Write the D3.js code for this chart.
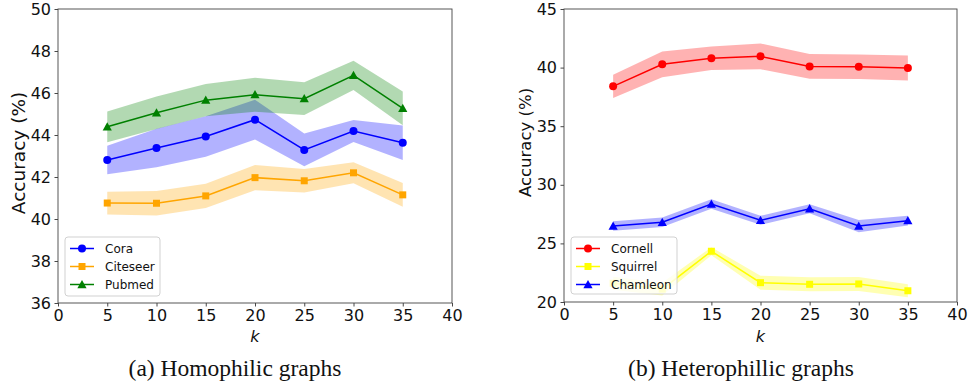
<!DOCTYPE html>
<html><head><meta charset="utf-8">
<script src="https://cdn.jsdelivr.net/npm/d3@7"></script>
<style>
body{margin:0;background:#fff;}
svg{display:block;}
</style></head>
<body>
<svg id="c" width="969" height="387"></svg>
<script>
const kValues = [5, 10, 15, 20, 25, 30, 35];
// Homophilic
const cora      = [42.81, 43.38, 43.93, 44.73, 43.29, 44.19, 43.63];
const coraStd   = [0.68, 0.92, 0.96, 0.95, 0.78, 0.52, 0.82];
const citeseer    = [40.76, 40.75, 41.10, 41.97, 41.82, 42.20, 41.15];
const citeseerStd = [0.54, 0.58, 0.58, 0.60, 0.56, 0.50, 0.57];
const pubmed    = [44.39, 45.06, 45.66, 45.92, 45.73, 46.84, 45.27];
const pubmedStd = [0.73, 0.77, 0.77, 0.81, 0.78, 0.70, 0.80];
// Heterophilic
const cornell    = [38.40, 40.28, 40.79, 40.96, 40.10, 40.07, 39.96];
const cornellStd = [1.00, 1.10, 1.00, 1.10, 1.05, 1.05, 1.07];
const squirrel    = [21.60, 21.10, 24.33, 21.65, 21.51, 21.54, 20.96];
const squirrelStd = [0.55, 0.55, 0.35, 0.60, 0.60, 0.60, 0.55];
const chamleon    = [26.48, 26.80, 28.36, 26.97, 27.96, 26.48, 26.94];
const chamleonStd = [0.40, 0.40, 0.40, 0.38, 0.38, 0.52, 0.42];

const xTicks = [0, 5, 10, 15, 20, 25, 30, 35, 40];
const yTicksA = [36, 38, 40, 42, 44, 46, 48, 50];
const yTicksB = [20, 25, 30, 35, 40, 45];

const svg = d3.select("#c");
const TICKFONT = "DejaVu Sans, sans-serif";

function marker(g, shape, x, y, color){
  if(shape==="circle"){
    g.append("circle").attr("cx",x).attr("cy",y).attr("r",4).attr("fill",color);
  } else if(shape==="square"){
    g.append("rect").attr("x",x-3.5).attr("y",y-3.5).attr("width",7).attr("height",7).attr("fill",color);
  } else {
    const s=4.6;
    g.append("path").attr("d",`M${x},${y-s}L${x+s},${y+s*0.8}L${x-s},${y+s*0.8}Z`).attr("fill",color);
  }
}

function panel(cfg){
  const x = d3.scaleLinear().domain([0,40]).range([cfg.x0,cfg.x1]);
  const y = d3.scaleLinear().domain(cfg.ydom).range([cfg.y1,cfg.y0]);
  const g = svg.append("g");

  cfg.series.forEach(s=>{
    const area = d3.area().x((d,i)=>x(kValues[i])).y0((d,i)=>y(d-s.std[i])).y1((d,i)=>y(d+s.std[i]));
    g.append("path").datum(s.vals).attr("d",area).attr("fill",s.color).attr("fill-opacity",0.3);
    const line = d3.line().x((d,i)=>x(kValues[i])).y(d=>y(d));
    g.append("path").datum(s.vals).attr("d",line).attr("fill","none").attr("stroke",s.color).attr("stroke-width",1.5);
    s.vals.forEach((v,i)=>marker(g,s.shape,x(kValues[i]),y(v),s.color));
  });

  const ax = svg.append("g").attr("transform",`translate(0,${cfg.y1})`)
    .call(d3.axisBottom(x).tickValues(xTicks).tickSize(3.5).tickPadding(3.5).tickFormat(d3.format("d")));
  const ay = svg.append("g").attr("transform",`translate(${cfg.x0},0)`)
    .call(d3.axisLeft(y).tickValues(cfg.yticks).tickSize(3.5).tickPadding(3.5).tickFormat(d3.format("d")));
  [ax,ay].forEach(a=>{
    a.select(".domain").remove();
    a.selectAll("line").attr("stroke","#333").attr("stroke-width",0.9);
    a.selectAll("text").attr("font-family",TICKFONT).attr("font-size",16).attr("fill","#111");
  });
  svg.append("rect").attr("x",cfg.x0).attr("y",cfg.y0).attr("width",cfg.x1-cfg.x0).attr("height",cfg.y1-cfg.y0)
    .attr("fill","none").attr("stroke","#444").attr("stroke-width",0.9);

  svg.append("text").attr("x",(cfg.x0+cfg.x1)/2).attr("y",342).attr("text-anchor","middle")
    .attr("font-family",TICKFONT).attr("font-size",16).attr("font-style","italic").attr("fill","#111").text("k");
  svg.append("text").attr("transform",`translate(${cfg.ylabX},${cfg.ylabY}) rotate(-90)`)
    .attr("text-anchor","middle").attr("dy","0.35em")
    .attr("font-family",TICKFONT).attr("font-size",cfg.ylabSize).attr("fill","#111").text("Accuracy (%)");

  // legend
  const L = cfg.legend;
  svg.append("rect").attr("x",L.x).attr("y",L.y).attr("width",L.w).attr("height",L.h).attr("rx",3)
    .attr("fill","#fff").attr("fill-opacity",0.8).attr("stroke","#ccc").attr("stroke-width",0.9);
  cfg.series.forEach((s,i)=>{
    const yy = L.y + 11.5 + i*18;
    const lg = svg.append("g");
    lg.append("line").attr("x1",L.x+5).attr("x2",L.x+29).attr("y1",yy).attr("y2",yy).attr("stroke",s.color).attr("stroke-width",1.5);
    marker(lg,s.shape,L.x+17,yy,s.color);
    lg.append("text").attr("x",L.x+40).attr("y",yy).attr("dy","0.35em")
      .attr("font-family",TICKFONT).attr("font-size",12).attr("fill","#111").text(s.name);
  });

  svg.append("text").attr("x",cfg.capX).attr("y",376).attr("text-anchor","middle")
    .attr("font-family","Liberation Serif, Times New Roman, serif").attr("font-size",23.5).attr("fill","#111").text(cfg.caption);
}

panel({
  x0:58, x1:452, y0:9, y1:303, ydom:[36,50], yticks:yTicksA, ylabX:19, ylabY:153, ylabSize:18.5,
  series:[
    {name:"Cora", vals:cora, std:coraStd, color:"#0000ff", shape:"circle"},
    {name:"Citeseer", vals:citeseer, std:citeseerStd, color:"#ffa500", shape:"square"},
    {name:"Pubmed", vals:pubmed, std:pubmedStd, color:"#008000", shape:"triangle"}
  ],
  legend:{x:65,y:237,w:95,h:59},
  caption:"(a) Homophilic graphs", capX:235
});
panel({
  x0:564, x1:957, y0:9, y1:302, ydom:[20,45], yticks:yTicksB, ylabX:525, ylabY:142.5, ylabSize:16.5,
  series:[
    {name:"Cornell", vals:cornell, std:cornellStd, color:"#ff0000", shape:"circle"},
    {name:"Squirrel", vals:squirrel, std:squirrelStd, color:"#ffff00", shape:"square"},
    {name:"Chamleon", vals:chamleon, std:chamleonStd, color:"#0000ff", shape:"triangle"}
  ],
  legend:{x:571,y:237,w:106,h:57},
  caption:"(b) Heterophillic graphs", capX:741
});
</script>
</body></html>
